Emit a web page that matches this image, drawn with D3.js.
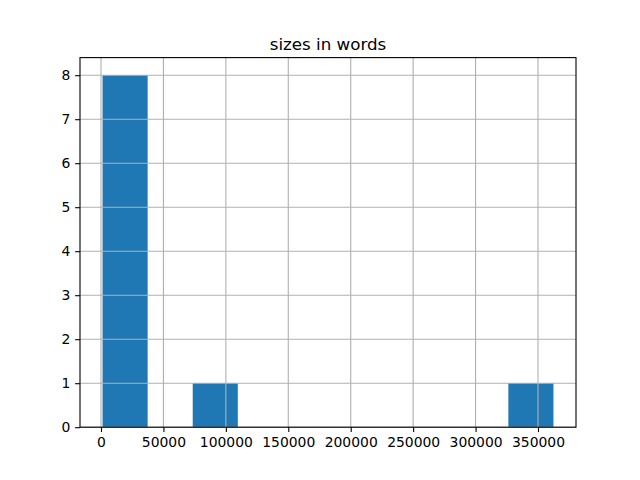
<!DOCTYPE html>
<html><head><meta charset="utf-8">
<script src="https://cdn.jsdelivr.net/npm/d3@7"></script>
<style>body{margin:0;background:#fff}</style>
</head><body>
<svg id="c" width="640" height="480"></svg>
<script>
const title = "sizes in words";
const dataMin = 1238, dataMax = 362378;
const binCounts = [8, 0, 1, 0, 0, 0, 0, 0, 0, 1];
const xTicks = [0, 50000, 100000, 150000, 200000, 250000, 300000, 350000];
const yTicks = [0, 1, 2, 3, 4, 5, 6, 7, 8];

const svg = d3.select("#c");
const L = 80, R = 576, T = 57.6, B = 427.2;
const span = dataMax - dataMin;
const bw = span / binCounts.length;
const bins = binCounts.map((c, i) => ({x0: dataMin + i * bw, x1: dataMin + (i + 1) * bw, c}));
const x = d3.scaleLinear().domain([dataMin - 0.05 * span, dataMax + 0.05 * span]).range([L, R]);
const y = d3.scaleLinear().domain([0, d3.max(binCounts) * 1.05]).range([B, T]);
const font = "DejaVu Sans, sans-serif";

svg.append("g").selectAll("rect").data(bins.filter(d => d.c > 0)).join("rect")
  .attr("x", d => x(d.x0)).attr("width", d => x(d.x1) - x(d.x0))
  .attr("y", d => y(d.c)).attr("height", d => y(0) - y(d.c))
  .attr("fill", "#1f77b4");

const grid = svg.append("g").attr("stroke", "#b0b0b0").attr("stroke-width", 1.1);
grid.selectAll(".gx").data(xTicks).join("line")
  .attr("x1", d => x(d)).attr("x2", d => x(d)).attr("y1", T).attr("y2", B);
grid.selectAll(".gy").data(yTicks).join("line")
  .attr("y1", d => y(d)).attr("y2", d => y(d)).attr("x1", L).attr("x2", R);

const xAxis = d3.axisBottom(x).tickValues(xTicks).tickFormat(d3.format("d")).tickSizeOuter(0).tickSize(4.86).tickPadding(4.86);
const gx = svg.append("g").attr("transform", `translate(0,${B})`).call(xAxis);
const yAxis = d3.axisLeft(y).tickValues(yTicks).tickFormat(d3.format("d")).tickSizeOuter(0).tickSize(4.86).tickPadding(4.86);
const gy = svg.append("g").attr("transform", `translate(${L},0)`).call(yAxis);
[gx, gy].forEach(g => {
  g.select(".domain").remove();
  g.selectAll("line").attr("stroke", "#000").attr("stroke-width", 1.1);
  g.selectAll("text").attr("font-family", font).attr("font-size", "13.9px").attr("fill", "#000");
});

svg.append("rect").attr("x", L).attr("y", T).attr("width", R - L).attr("height", B - T)
  .attr("fill", "none").attr("stroke", "#000").attr("stroke-width", 1.1);

svg.append("text").attr("x", (L + R) / 2).attr("y", T - 8).attr("text-anchor", "middle")
  .attr("font-family", font).attr("font-size", "16.7px").attr("fill", "#000").text(title);
</script>
</body></html>
